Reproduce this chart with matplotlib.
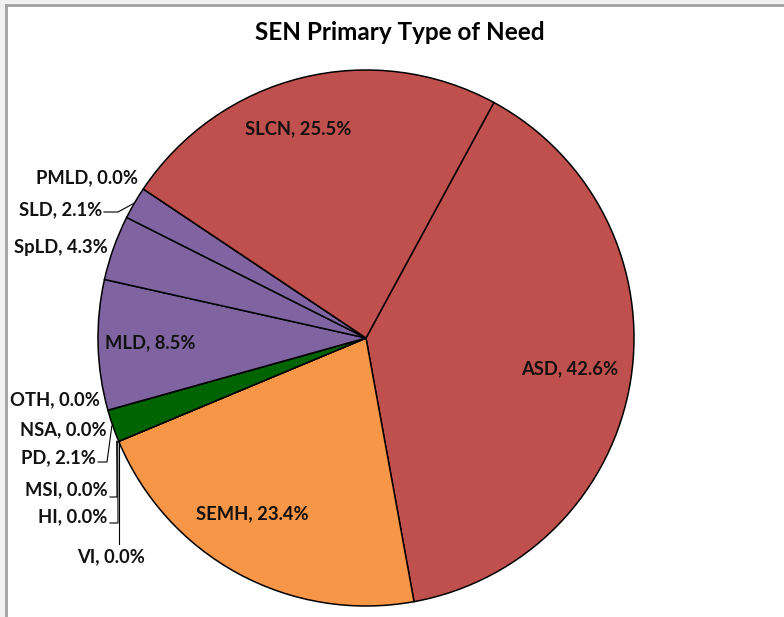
import numpy as np
import matplotlib.pyplot as plt
from matplotlib.patches import Rectangle

# pupil counts per primary need (clockwise from ASD); labels show % of 47 pupils
needs = ["ASD", "SEMH", "VI", "HI", "MSI", "PD", "NSA", "OTH",
         "MLD", "SpLD", "SLD", "PMLD", "SLCN"]
counts = [20, 11, 0, 0, 0, 1, 0, 0, 4, 2, 1, 0, 12]
pct_labels = [42.6, 23.4, 0.0, 0.0, 0.0, 2.1, 0.0, 0.0, 8.5, 4.3, 2.1, 0.0, 25.5]

red, orange, green, purple = "#C0504D", "#F79646", "#006400", "#8064A2"
colors = [red, orange, purple, purple, purple, green, purple, purple,
          purple, purple, purple, purple, red]

W, H = 784, 617
fig = plt.figure(figsize=(W / 100, H / 100), dpi=100)
ax = fig.add_axes([0, 0, 1, 1])

cx, cy, r = 366, H - 338, 268
wedges, _ = ax.pie(counts, colors=colors, center=(cx, cy), radius=r,
                   startangle=61.5, counterclock=False,
                   wedgeprops=dict(edgecolor="black", linewidth=1.1))
ax.set_xlim(0, W)
ax.set_ylim(0, H)
ax.set_aspect("auto")
ax.axis("off")

# chart frame like the spreadsheet export
ax.add_patch(Rectangle((0, 0), 5, H, color="#F0F0F0", lw=0))
ax.add_patch(Rectangle((0, H - 4), W, 4, color="#F0F0F0", lw=0))
ax.plot([6, 6], [0, H - 5], color="#A0A0A0", lw=2)
ax.plot([6, W], [H - 5, H - 5], color="#A0A0A0", lw=2)

font = "Lato"
fs = 13.2
txt = {n: f"{n}, {p:.1f}%" for n, p in zip(needs, pct_labels)}

ax.text(400, H - 33, "SEN Primary Type of Need", ha="center", va="center",
        fontsize=17.5, fontweight="bold", family=font)

# labels inside the big slices (pixel positions from top)
inside = {"SLCN": (298, 129), "ASD": (570, 369), "SEMH": (252, 514), "MLD": (150, 343)}
for n, (x, y) in inside.items():
    ax.text(x, H - y, txt[n], ha="center", va="center", fontsize=fs,
            fontweight="bold", family=font, color="#111111")

# outside labels: right edge x, y from top
outside = {"PMLD": (138, 178), "SLD": (102, 210), "SpLD": (108, 247),
           "OTH": (100, 400), "NSA": (107, 430), "PD": (96, 458),
           "MSI": (108, 490), "HI": (107, 517)}
for n, (x, y) in outside.items():
    ax.text(x, H - y, txt[n], ha="right", va="center", fontsize=fs,
            fontweight="bold", family=font, color="#111111")
ax.text(111, H - 557, txt["VI"], ha="center", va="center", fontsize=fs,
        fontweight="bold", family=font, color="#111111")


def edge_point(name):
    w = wedges[needs.index(name)]
    a = np.deg2rad((w.theta1 + w.theta2) / 2)
    return cx + r * np.cos(a), cy + r * np.sin(a)


# leader lines
ex, ey = edge_point("SLD")
ax.plot([104, 118, ex], [H - 212, H - 212, ey], color="black", lw=0.8)
ex, ey = edge_point("PD")
ax.plot([98, 107, ex - 1], [H - 462, H - 462, ey], color="black", lw=0.8)
ex, ey = edge_point("MSI")
ax.plot([110, 117, ex - 2], [H - 497, H - 497, ey], color="black", lw=0.8)
ex, ey = edge_point("HI")
ax.plot([110, 118, ex - 1], [H - 523, H - 523, ey], color="black", lw=0.8)
ex, ey = edge_point("VI")
ax.plot([ex, ex], [ey, H - 544], color="black", lw=0.8)

fig.savefig("out.png", dpi=100, facecolor="white")
